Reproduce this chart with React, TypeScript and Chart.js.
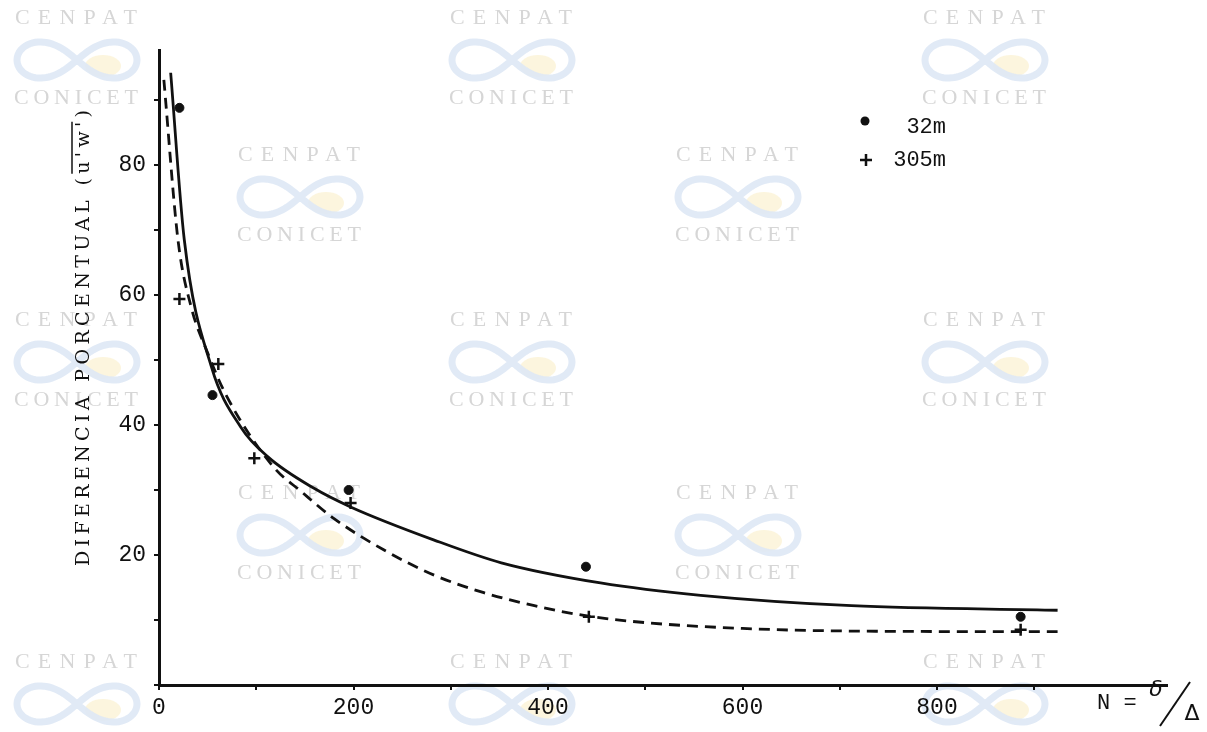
import React, { useEffect, useRef } from 'react';
import { Chart, registerables } from 'chart.js';
Chart.register(...registerables);

// ---- data ----
const dots32X = [21, 55, 195, 439, 886];
const dots32Y = [88.8, 44.6, 30, 18.2, 10.5];
const plus305X = [21, 61, 98, 197, 442, 886];
const plus305Y = [59.4, 49.4, 34.9, 28, 10.5, 8.5];
const solidX = [12, 26, 54, 84, 112, 159, 197, 283, 352, 454, 557, 712, 924];
const solidY = [94.2, 68.5, 48.9, 39.7, 35.1, 30.3, 27.4, 22.3, 18.8, 15.7, 13.8, 12.2, 11.5];
const dashX = [5, 19.5, 33, 50, 69, 118, 146, 180, 231, 283, 334, 386, 437, 500, 600, 712, 924];
const dashY = [93.1, 68.5, 58.2, 51.1, 44.6, 33.5, 29.8, 25.6, 20.8, 16.9, 14.2, 12.2, 10.7, 9.6, 8.7, 8.3, 8.2];
const xTickValues = [0, 100, 200, 300, 400, 500, 600, 700, 800, 900];
const xTickLabels = [0, 200, 400, 600, 800];
const yTickValues = [0, 10, 20, 30, 40, 50, 60, 70, 80, 90];
const yTickLabels = [20, 40, 60, 80];
const seriesNames = ['32m', '305m'];
const yTitle = "DIFERENCIA PORCENTUAL (u'w')";
const xTitle = 'N =';

const zip = (xs: number[], ys: number[]) => xs.map((x, i) => ({ x, y: ys[i] }));

function spacedText(ctx: CanvasRenderingContext2D, text: string, left: number, y: number, width: number) {
  (ctx as any).letterSpacing = '0px';
  const w = ctx.measureText(text).width;
  const s = (width - w) / Math.max(1, text.length - 1);
  (ctx as any).letterSpacing = s + 'px';
  ctx.textAlign = 'left';
  ctx.fillText(text, left, y);
  (ctx as any).letterSpacing = '0px';
  return s;
}

const wmGroups = [
  [77, 18], [512, 18], [985, 18], [300, 155], [738, 155],
  [77, 320], [512, 320], [985, 320], [300, 493], [738, 493],
  [77, 662], [512, 662], [985, 662],
];

function drawLogo(ctx: CanvasRenderingContext2D, cx: number, cy: number) {
  ctx.save();
  ctx.fillStyle = 'rgba(252,244,218,0.9)';
  ctx.beginPath();
  ctx.ellipse(cx + 26, cy + 6, 18, 11, 0, 0, Math.PI * 2);
  ctx.fill();
  ctx.strokeStyle = 'rgba(222,232,245,0.9)';
  ctx.lineWidth = 7;
  ctx.beginPath();
  for (let i = 0; i <= 120; i++) {
    const t = (i / 120) * Math.PI * 2;
    const s = Math.sin(t);
    const d = 1 + s * s;
    const x = cx + (60 * Math.cos(t)) / d;
    const y = cy + ((60 * s * Math.cos(t)) / d) * 0.85;
    if (i === 0) ctx.moveTo(x, y);
    else ctx.lineTo(x, y);
  }
  ctx.closePath();
  ctx.stroke();
  ctx.restore();
}

const decoPlugin = {
  id: 'deco',
  beforeDraw(chart: any) {
    const ctx: CanvasRenderingContext2D = chart.ctx;
    ctx.save();
    ctx.fillStyle = '#ffffff';
    ctx.fillRect(0, 0, chart.width, chart.height);
    ctx.textBaseline = 'middle';
    for (const [cx, cy] of wmGroups) {
      ctx.fillStyle = '#d6d6d6';
      ctx.font = '22px "Liberation Serif"';
      spacedText(ctx, 'CENPAT', cx - 62, cy, 122);
      drawLogo(ctx, cx, cy + 42);
      ctx.fillStyle = '#d6d6d6';
      ctx.font = '22px "Liberation Serif"';
      spacedText(ctx, 'CONICET', cx - 63, cy + 80, 124);
    }
    ctx.restore();
  },
  afterDraw(chart: any) {
    const ctx: CanvasRenderingContext2D = chart.ctx;
    ctx.save();
    ctx.fillStyle = '#111';
    ctx.strokeStyle = '#111';
    // legend
    ctx.beginPath();
    ctx.arc(865, 121, 4.5, 0, Math.PI * 2);
    ctx.fill();
    ctx.lineWidth = 2.5;
    ctx.beginPath();
    ctx.moveTo(860, 160); ctx.lineTo(872, 160);
    ctx.moveTo(866, 154); ctx.lineTo(866, 166);
    ctx.stroke();
    ctx.font = '22px "Liberation Mono"';
    ctx.textBaseline = 'middle';
    ctx.textAlign = 'right';
    ctx.fillText(seriesNames[0], 946, 127);
    ctx.fillText(seriesNames[1], 946, 160);

    // y title
    ctx.save();
    ctx.translate(84, 338);
    ctx.rotate(-Math.PI / 2);
    ctx.font = '19px "DejaVu Serif"';
    ctx.textBaseline = 'middle';
    const total = 456;
    const left = -total / 2;
    const s = spacedText(ctx, yTitle, left, 0, total);
    (ctx as any).letterSpacing = s + 'px';
    const pre = yTitle.indexOf('u');
    const preW = ctx.measureText(yTitle.slice(0, pre)).width;
    const midW = ctx.measureText(yTitle.slice(pre, pre + 4)).width;
    (ctx as any).letterSpacing = '0px';
    ctx.lineWidth = 1.5;
    ctx.beginPath();
    ctx.moveTo(left + preW, -12);
    ctx.lineTo(left + preW + midW - s, -12);
    ctx.stroke();
    ctx.restore();

    // x title
    ctx.font = '22px "Liberation Mono"';
    ctx.textAlign = 'left';
    ctx.textBaseline = 'middle';
    ctx.fillText(xTitle, 1097, 703);
    ctx.font = 'italic 22px "DejaVu Sans"';
    ctx.textAlign = 'center';
    ctx.fillText('δ', 1156, 690);
    ctx.lineWidth = 2;
    ctx.beginPath();
    ctx.moveTo(1160, 726);
    ctx.lineTo(1190, 682);
    ctx.stroke();
    ctx.font = '22px "DejaVu Sans"';
    ctx.fillText('Δ', 1192, 714);
    ctx.restore();
  },
};

export default function App() {
  const ref = useRef<HTMLCanvasElement>(null);
  useEffect(() => {
    const chart = new Chart(ref.current as HTMLCanvasElement, {
      type: 'scatter',
      data: {
        datasets: [
          {
            label: 'fit 32m',
            data: zip(solidX, solidY),
            showLine: true,
            borderColor: '#111',
            borderWidth: 2.8,
            pointRadius: 0,
            cubicInterpolationMode: 'monotone',
          },
          {
            label: 'fit 305m',
            data: zip(dashX, dashY),
            showLine: true,
            borderColor: '#111',
            borderWidth: 2.8,
            borderDash: [11, 7],
            pointRadius: 0,
            cubicInterpolationMode: 'monotone',
          },
          {
            label: seriesNames[0],
            data: zip(dots32X, dots32Y),
            pointStyle: 'circle',
            pointRadius: 4.5,
            backgroundColor: '#111',
            borderColor: '#111',
            borderWidth: 1,
          },
          {
            label: seriesNames[1],
            data: zip(plus305X, plus305Y),
            pointStyle: 'cross',
            pointRadius: 6,
            borderColor: '#111',
            borderWidth: 2.5,
          },
        ],
      } as any,
      options: {
        animation: false,
        responsive: false,
        events: [],
        layout: { padding: { top: 50, right: 40, left: 0, bottom: 0 } },
        plugins: { legend: { display: false }, tooltip: { enabled: false } },
        scales: {
          x: {
            type: 'linear',
            min: 0,
            max: 1036.5,
            afterBuildTicks: (s: any) => { s.ticks = xTickValues.map((v) => ({ value: v })); },
            afterFit: (s: any) => { s.height = 47; },
            border: { display: true, color: '#111', width: 3 },
            grid: { drawOnChartArea: false, drawTicks: true, tickLength: 5, color: '#111', lineWidth: 2 },
            ticks: {
              autoSkip: false,
              maxRotation: 0,
              padding: 4,
              color: '#111',
              font: { family: 'Liberation Mono', size: 23 },
              callback: (v: any) => (xTickLabels.includes(Number(v)) ? String(v) : ''),
            },
          },
          y: {
            type: 'linear',
            min: 0,
            max: 97.7,
            afterBuildTicks: (s: any) => { s.ticks = yTickValues.map((v) => ({ value: v })); },
            afterFit: (s: any) => { s.width = 159; },
            border: { display: true, color: '#111', width: 3 },
            grid: { drawOnChartArea: false, drawTicks: true, tickLength: 5, color: '#111', lineWidth: 2 },
            ticks: {
              autoSkip: false,
              padding: 8,
              color: '#111',
              font: { family: 'Liberation Mono', size: 23 },
              callback: (v: any) => (yTickLabels.includes(Number(v)) ? String(v) : ''),
            },
          },
        },
      } as any,
      plugins: [decoPlugin],
    });
    return () => chart.destroy();
  }, []);
  return (
    <div style={{ position: 'fixed', left: 0, top: 0, width: 1207, height: 732, background: '#fff' }}>
      <canvas ref={ref} width={1207} height={732} style={{ display: 'block' }} />
    </div>
  );
}
